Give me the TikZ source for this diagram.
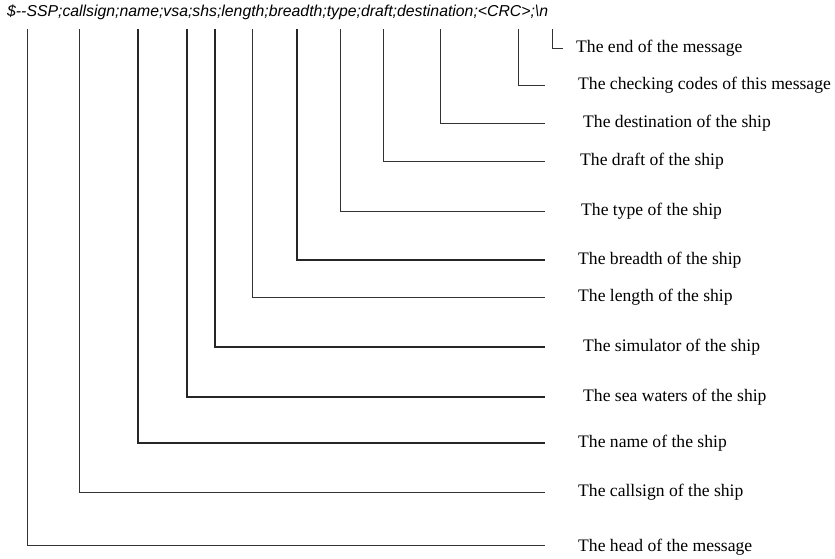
\documentclass[tikz,border=0pt]{standalone}
\usepackage{fontspec}
\setmainfont{Liberation Serif}
\newfontfamily\msgfont{Liberation Sans}
\usepackage{tikz}

\begin{document}
\begin{tikzpicture}[x=1pt,y=-1pt,
	lbl/.style={anchor=west,inner sep=0pt,font=\fontsize{17.6}{20}\selectfont},
	lead/.style={line width=0.7pt,black!80},
	leadthick/.style={line width=1.2pt,black!85}]
	\useasboundingbox (0,0) rectangle (835,559);
	\node[anchor=west,inner sep=0pt,font=\msgfont\itshape\fontsize{15.8}{18}\selectfont] (msg) at (7,12)
		{\$--SSP;callsign;name;vsa;shs;length;breadth;type;draft;destination;<CRC>;\textbackslash n};
	
	% where each field drops down from the message
	\coordinate (end-top) at (552,29);
	\coordinate (crc-top) at (518,29);
	\coordinate (dest-top) at (440,29);
	\coordinate (draft-top) at (383,29);
	\coordinate (type-top) at (340,29);
	\coordinate (breadth-top) at (297,29);
	\coordinate (length-top) at (252,29);
	\coordinate (shs-top) at (215,29);
	\coordinate (vsa-top) at (187,29);
	\coordinate (name-top) at (138,29);
	\coordinate (call-top) at (79,29);
	\coordinate (head-top) at (27,29);
	
	\node[lbl] (end) at (576,48) {The end of the message};
	\node[lbl] (crc) at (578,85) {The checking codes of this message};
	\node[lbl] (dest) at (583,123) {The destination of the ship};
	\node[lbl] (draft) at (580,161) {The draft of the ship};
	\node[lbl] (type) at (581,211) {The type of the ship};
	\node[lbl] (breadth) at (578,260) {The breadth of the ship};
	\node[lbl] (length) at (578,297) {The length of the ship};
	\node[lbl] (shs) at (583,347) {The simulator of the ship};
	\node[lbl] (vsa) at (583,397) {The sea waters of the ship};
	\node[lbl] (name) at (578,443) {The name of the ship};
	\node[lbl] (call) at (578,492) {The callsign of the ship};
	\node[lbl] (head) at (578,547) {The head of the message};
	
	\draw[lead] (end-top) |- ([xshift=-13pt]end.west);
	\draw[lead] (crc-top) |- ([xshift=-33pt]crc.west);
	\draw[lead] (dest-top) |- ([xshift=-38pt]dest.west);
	\draw[lead] (draft-top) |- ([xshift=-35pt]draft.west);
	\draw[lead] (type-top) |- ([xshift=-36pt]type.west);
	\draw[leadthick] (breadth-top) |- ([xshift=-33pt]breadth.west);
	\draw[lead] (length-top) |- ([xshift=-33pt]length.west);
	\draw[leadthick] (shs-top) |- ([xshift=-38pt]shs.west);
	\draw[leadthick] (vsa-top) |- ([xshift=-38pt]vsa.west);
	\draw[leadthick] (name-top) |- ([xshift=-33pt]name.west);
	\draw[lead] (call-top) |- ([xshift=-33pt]call.west);
	\draw[lead] (head-top) |- ([xshift=-33pt,yshift=2pt]head.west);
\end{tikzpicture}
\end{document}
